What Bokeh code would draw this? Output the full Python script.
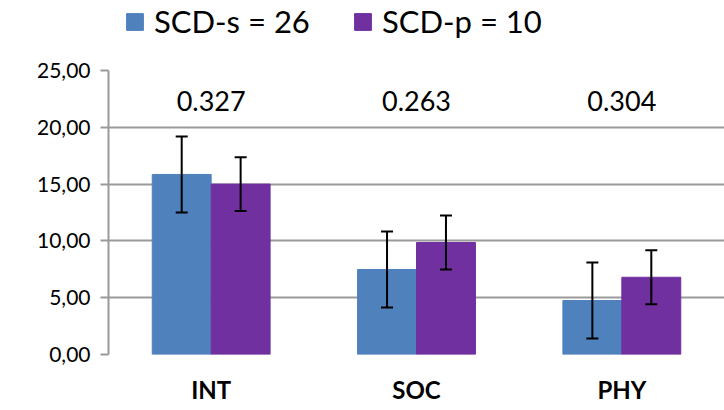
from bokeh.plotting import figure
from bokeh.layouts import column
from bokeh.models import ColumnDataSource, FactorRange, Whisker, TeeHead, Legend, LegendItem, FixedTicker
from bokeh.transform import dodge
from bokeh.core.properties import value
from bokeh.embed import file_html
from bokeh.resources import INLINE

categories = ["INT", "SOC", "PHY"]
scd_s = [15.85, 7.48, 4.75]
scd_s_err = [3.35, 3.35, 3.35]
scd_p = [15.0, 9.86, 6.8]
scd_p_err = [2.37, 2.38, 2.38]
p_values = ["0.327", "0.263", "0.304"]
series_labels = ["SCD-s = 26", "SCD-p = 10"]
yticks = [0, 5, 10, 15, 20, 25]

FONT = "Lato"
BLUE = "#4F81BD"
PURPLE = "#7030A0"
GRID = "#9A9A9A"

src = ColumnDataSource(dict(
    cat=categories,
    s=scd_s, s_up=[v + e for v, e in zip(scd_s, scd_s_err)], s_lo=[v - e for v, e in zip(scd_s, scd_s_err)],
    p=scd_p, p_up=[v + e for v, e in zip(scd_p, scd_p_err)], p_lo=[v - e for v, e in zip(scd_p, scd_p_err)],
    pv=p_values, ty=[22.3] * 3,
))

# ---- main chart ----
p = figure(width=724, height=360, x_range=FactorRange(*categories, range_padding=0),
           y_range=(0, 25), output_backend="svg", toolbar_location=None,
           min_border_left=108, min_border_right=0, min_border_bottom=56, min_border_top=20)
p.outline_line_color = None

W = 0.287
p.vbar(x=dodge("cat", -W / 2, range=p.x_range), top="s", width=W, source=src,
       fill_color=BLUE, line_color=BLUE)
p.vbar(x=dodge("cat", W / 2, range=p.x_range), top="p", width=W, source=src,
       fill_color=PURPLE, line_color=PURPLE)

for off, up, lo in [(-W / 2, "s_up", "s_lo"), (W / 2, "p_up", "p_lo")]:
    wk = Whisker(base=dodge("cat", off, range=p.x_range), upper=up, lower=lo, source=src,
                 line_color="black", line_width=2, level="overlay",
                 upper_head=TeeHead(size=12, line_width=2, line_color="black"),
                 lower_head=TeeHead(size=12, line_width=2, line_color="black"))
    p.add_layout(wk)

p.text(x="cat", y="ty", text="pv", source=src, text_align="center", text_baseline="middle",
       text_font=value(FONT), text_font_size="27px", text_color="black")

p.xgrid.grid_line_color = None
p.ygrid.grid_line_color = GRID
p.ygrid.grid_line_width = 2
p.ygrid.ticker = FixedTicker(ticks=yticks)

p.yaxis.ticker = FixedTicker(ticks=yticks)
p.yaxis.major_label_overrides = {t: f"{t:.2f}".replace(".", ",") for t in yticks}
p.yaxis.axis_line_color = GRID
p.yaxis.axis_line_width = 2
p.yaxis.major_tick_line_color = GRID
p.yaxis.major_tick_line_width = 2
p.yaxis.major_tick_in = 0
p.yaxis.major_tick_out = 8
p.yaxis.minor_tick_line_color = None
p.yaxis.major_label_text_font = FONT
p.yaxis.major_label_text_font_size = "21px"
p.yaxis.major_label_text_color = "black"
p.yaxis.major_label_standoff = 10

p.xaxis.axis_line_color = None
p.xaxis.major_tick_line_color = None
p.xaxis.minor_tick_line_color = None
p.xaxis.major_label_text_font = FONT
p.xaxis.major_label_text_font_style = "bold"
p.xaxis.major_label_text_font_size = "24px"
p.xaxis.major_label_text_color = "black"
p.xaxis.major_label_standoff = 14

# ---- legend strip (its frame is aligned with the chart frame by the column layout) ----
lf = figure(width=724, height=50, x_range=(0, 1), y_range=(0, 1), output_backend="svg",
            toolbar_location=None, min_border=0)
lf.axis.visible = False
lf.grid.visible = False
lf.outline_line_color = None
# legend-only renderers, placed outside the visible range of this strip
offscreen = ColumnDataSource(dict(x=[10], top=[10], bottom=[9]))
d1 = lf.vbar(x="x", top="top", bottom="bottom", width=0.1, source=offscreen,
             fill_color=BLUE, line_color=BLUE)
d2 = lf.vbar(x="x", top="top", bottom="bottom", width=0.1, source=offscreen,
             fill_color=PURPLE, line_color=PURPLE)

for rend, lab, xpos in [(d1, series_labels[0], 16), (d2, series_labels[1], 244)]:
    lg = Legend(items=[LegendItem(label=lab, renderers=[rend])], location=(xpos, 10),
                label_text_font=FONT, label_text_font_size="31px", label_text_color="black",
                glyph_width=21, glyph_height=21, label_standoff=9,
                border_line_color=None, background_fill_alpha=0, margin=0, padding=0)
    lf.add_layout(lg)

open("out.html", "w").write(file_html(column(lf, p, spacing=0), INLINE))
